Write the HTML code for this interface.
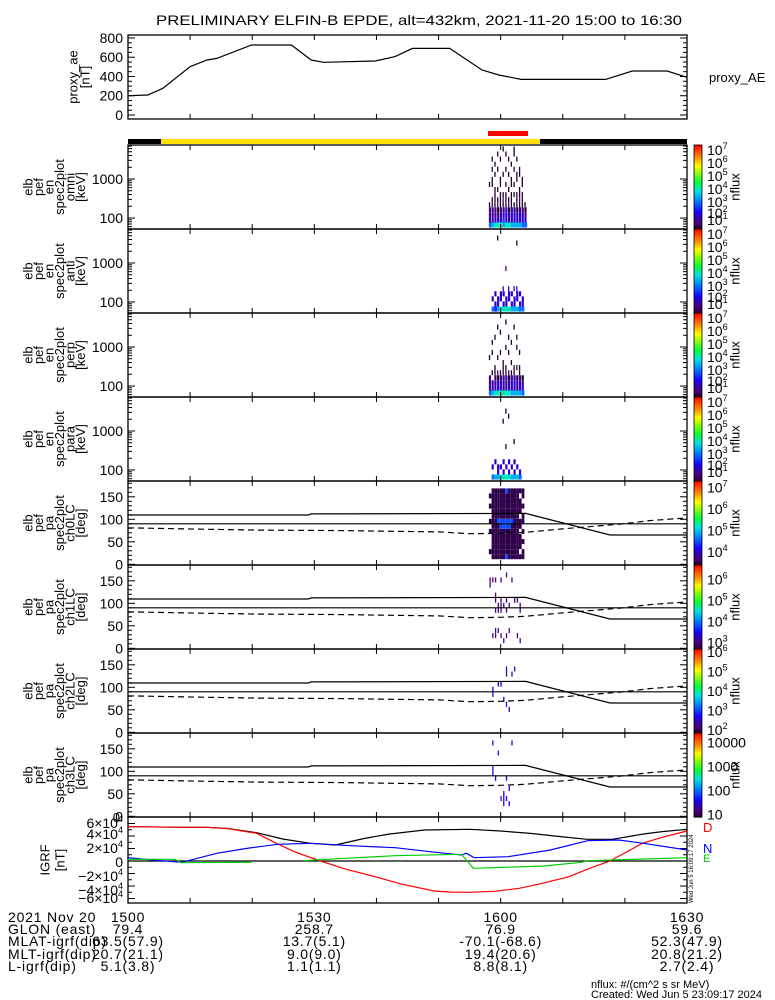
<!DOCTYPE html>
<html><head><meta charset="utf-8"><style>
html,body{margin:0;padding:0;background:#fff;}
svg{display:block;font-family:"Liberation Sans",sans-serif;}
</style></head><body>
<svg id="chart" width="775" height="1000" viewBox="0 0 775 1000" xmlns="http://www.w3.org/2000/svg">
<rect x="0" y="0" width="775" height="1000" fill="#fff"/>
<text x="156" y="25" font-size="14" textLength="526" lengthAdjust="spacingAndGlyphs">PRELIMINARY ELFIN-B EPDE, alt=432km, 2021-11-20 15:00 to 16:30</text>
<g id="layer"></g>
</svg>
<script>
// ---------- DATA ----------
const aeTimes = [0,3.2,5.6,10,12.7,14.3,19.9,26.3,29.5,31.5,39.8,43,45.8,51.8,57,59.7,63.3,76.9,81.2,86.8,90];
const aeValues = [200,208,277,502,571,588,727,727,571,547,561,606,692,692,467,415,370,370,457,457,391];

const energyChannelsLog = [1.82,1.95,2.08,2.21,2.34,2.47,2.60,2.73,2.86,2.99,3.12,3.25,3.38,3.51,3.64,3.77];
const specStartMin = 58.1;
const specBinMin = 0.44;
// chars: '0' empty, else log10(flux) = value/2 (e.g. '8' -> 10^4)
const omniRows = ["6433200020000000","7343220022020200","8433222200202000","8432320200020020","8443222022000200","7543232000200002","8444222020020020","8442320200200200","7443222022002000","7444202020020022","7442222002200200","7443232200220000","6443222022000000","6432200000000000"];
const antiRows = ["0000000000000000","6040000000000000","5404000000000000","7440000000000020","8044000000000000","8404400000000000","8440000030000000","8044400000000000","7404000000000000","7440400000000000","7044400000000200","6404000000000000","6440000000000000","0000000000000000"];
const perpRows = ["6433000200000000","7340200020200000","8433220000020000","8442300200000200","8443200020002000","8343222000000000","8434220002000020","8442300020020000","7443202000200000","7444220000000200","7342020002020000","7443220020000000","6432000000000000","0000000000000000"];
const paraRows = ["0000000000000000","6040000000000000","7004000000000000","7440000000000000","8040000000000000","8404000000020000","8040002000000200","8404000000002000","7040000000000000","7404000200000000","7040000000000000","6400000000000000","0000000000000000","0000000000000000"];

const paBinsDeg = [5.6,16.9,28.1,39.4,50.6,61.9,73.1,84.4,95.6,106.9,118.1,129.4,140.6,151.9,163.1,174.4];
const pa0Rows = ["0070007070070700","0777777777777770","0777777777777770","0777777797777770","0777777997777770","0777777997777770","0977777997777790","0777777997777770","0777777797777770","0777777777777770","0777777777777770","0707770770777070","0770707077070770","0000000000000000"];
const pa1Rows = ["0000000000006600","0060000000000600","0066000606600600","0006000660000000","0060000666000600","0600000060000000","0060000606000060","0006000060000000","0000000000000600","0000000006000000","0060000006000000","0600000660000000","0000000000000000","0000000000000000"];
const pa2Rows = ["0000000000000000","0000000550000000","0000000000000000","0000000005000000","0000000005000000","0000005000000000","0000050000055000","0000500000000000","0000000000050000","0000000000005000","0000000000000000","0000000000000000","0000000000000000","0000000000000000"];
const pa3Rows = ["0000000000000000","0000000033000030","0000000300000000","0000000000003000","0003000000000000","0033300000000000","0003000300000000","0030030000000000","0000000000000030","0000000000000000","0000000000000000","0000000000000000","0000000000000000","0000000000000000"];

const lcTimes = [0,29,29.5,64,77.6,90];
const lcValues = [109.5,109.5,112,113,65,65];
const alcTimes = [0,12,21,33,50,55,60,64,71,79,84,90];
const alcValues = [81,78,76,75,72,68,69,71,80,89,97,103];

const igrfDTimes = [0,9.5,12.7,16,18,20.7,23.9,27,31,35,39.8,44,49.3,52,55,59,63,67,71,74,77.6,80,82.8,86,90];
const igrfDValues = [54900,53900,53900,52000,48500,44300,28300,14000,0,-13000,-25100,-37000,-48000,-49800,-50100,-48500,-43700,-35000,-25100,-13000,0,13000,28300,38000,48000];
const igrfTotTimes = [0,9.5,12.7,16,20.7,25,29.4,33.4,38,42,47.7,55,60,65,70,73.9,78,83,86,90];
const igrfTotValues = [54900,53900,53900,52000,45300,35000,28300,25600,36000,43000,49600,50700,48000,44000,38500,34700,34700,43200,47000,50700];
const igrfNTimes = [0,4,8.7,14.3,19,24,29.4,35.8,43,51,53.7,54.5,55.7,61.2,68,74,79,83,90];
const igrfNValues = [5300,1600,-2100,12300,20000,26700,28300,24500,21300,12300,9600,12300,5300,6900,17600,32500,33600,28300,17600];
const igrfETimes = [0,7.5,8.6,19.9,null,28.2,35,43,53.7,55.6,67,73,74,90];
const igrfEValues = [2700,2700,-2700,-2100,null,500,4300,8500,10700,-11700,-8000,-2100,500,5300];

const timeTickLabels = ["1500","1530","1600","1630"];
const glonValues = ["79.4","258.7","76.9","59.6"];
const mlatValues = ["63.5(57.9)","13.7(5.1)","-70.1(-68.6)","52.3(47.9)"];
const mltValues = ["20.7(21.1)","9.0(9.0)","19.4(20.6)","20.8(21.2)"];
const lValues = ["5.1(3.8)","1.1(1.1)","8.8(8.1)","2.7(2.4)"];

// ---------- HELPERS ----------
const NS = "http://www.w3.org/2000/svg";
const layer = document.getElementById('layer');
const X0 = 128, X1 = 687;
function xOf(t){ return X0 + t*(X1-X0)/90; }
function mk(tag, attrs, parent){
  const e = document.createElementNS(NS, tag);
  for (const k in attrs) e.setAttribute(k, attrs[k]);
  (parent||layer).appendChild(e);
  return e;
}
function txt(x,y,s,size,anchor,parent){
  const t = mk('text',{x:x,y:y,'font-size':size||13,'text-anchor':anchor||'start'},parent);
  t.textContent = s; return t;
}
const cmapStops = [[0,[32,0,48]],[0.08,[75,0,130]],[0.2,[26,0,255]],[0.35,[0,144,255]],[0.45,[0,224,224]],[0.55,[0,255,64]],[0.68,[160,255,0]],[0.75,[255,255,0]],[0.85,[255,144,0]],[1,[255,0,0]]];
function cmap(f){
  f=Math.max(0,Math.min(1,f));
  for(let i=1;i<cmapStops.length;i++){
    if(f<=cmapStops[i][0]){
      const a=cmapStops[i-1],b=cmapStops[i],u=(f-a[0])/(b[0]-a[0]);
      const c=a[1].map((v,j)=>Math.round(v+(b[1][j]-v)*u));
      return 'rgb('+c.join(',')+')';
    }
  }
  return 'rgb(255,0,0)';
}
function frame(top,bot,name){
  const r = mk('rect',{x:X0,y:top,width:X1-X0,height:bot-top,fill:'none',stroke:'#000','stroke-width':1.3});
  
  
  for(let m=10;m<90;m+=10){
    const x=xOf(m);
    mk('line',{x1:x,y1:bot,x2:x,y2:bot-5,stroke:'#000'});
    mk('line',{x1:x,y1:top,x2:x,y2:top+5,stroke:'#000'});
  }
}
function yTick(y,len){
  mk('line',{x1:X0,y1:y,x2:X0+len,y2:y,stroke:'#000'});
  mk('line',{x1:X1,y1:y,x2:X1-len,y2:y,stroke:'#000'});
}
function sideLabel(lines, xs, cy){
  const g = mk('g',{});
  
  
  lines.forEach((s,i)=>{
    const t = txt(xs[i],cy,s,13,'middle',g);
    t.setAttribute('transform','rotate(-90 '+xs[i]+' '+cy+')');
    t.setAttribute('dominant-baseline','central');
  });
}
function polyline(times, vals, yfn, color, dash, name){
  let segs=[[]];
  times.forEach((t,i)=>{ if(t===null){segs.push([]);} else segs[segs.length-1].push(xOf(t).toFixed(1)+','+yfn(vals[i]).toFixed(1)); });
  segs.forEach(s=>{ if(s.length>1){
    const p = mk('polyline',{points:s.join(' '),fill:'none',stroke:color,'stroke-width':1.2});
    if(dash) p.setAttribute('stroke-dasharray',dash);
    
    
  }});
}
function colorbar(top,bot,vmin,vmax,labels,name){
  const n=60,h=(bot-top)/n;
  const g = mk('g',{});
  
  
  for(let i=0;i<n;i++){
    const f=1-(i+0.5)/n;
    mk('rect',{x:694,y:top+i*h,width:8,height:h+0.6,fill:cmap(f)},g);
  }
  mk('rect',{x:694,y:top,width:8,height:bot-top,fill:'none',stroke:'#000','stroke-width':0.8},g);
  labels.forEach(l=>{
    const t = txt(707,l[1]+5,l[0],14,'start',g);
    if(l[2]){ const s=mk('tspan',{dy:-6,'font-size':9},t); s.textContent=l[2]; }
  });
  const cy=(top+bot)/2;
  const t = txt(735,cy,'nflux',13,'middle',g);
  t.setAttribute('transform','rotate(-90 735 '+cy+')');
  t.setAttribute('dominant-baseline','central');
}
const labelXs6=[28,38.5,49,59.5,70,80.5];

// ---------- TOP PANEL: proxy AE ----------
(function(){
  const top=35,bot=119;
  const yA=v=>115-v*0.0963;
  frame(top,bot,'proxy-ae-panel');
  for(let v=0;v<=800;v+=50) yTick(yA(v), v%200===0?7:4);
  [0,200,400,600,800].forEach(v=>txt(123,yA(v)+5,String(v),14,'end'));
  polyline(aeTimes,aeValues,yA,'#000',null,'proxy-ae-line');
  sideLabel(['proxy_ae','[nT]'],[73,85],77);
  const l=txt(709,82,'proxy_AE',13);  
})();

// ---------- STATUS BARS ----------
(function(){
  const b1=mk('rect',{x:X0,y:139,width:X1-X0,height:5,fill:'#000'});  
  const b2=mk('rect',{x:161,y:139,width:379,height:5,fill:'#ffe000'});  
  const b3=mk('rect',{x:488,y:131,width:40,height:5,fill:'#f00'});  
})();

// ---------- ENERGY SPECTROGRAMS ----------
const energyPanels=[[omniRows,'omni'],[antiRows,'anti'],[perpRows,'perp'],[paraRows,'para']];
energyPanels.forEach((p,i)=>{
  const top=145+84*i, bot=top+84;
  const yE=le=>top+73-(le-2)*39;
  const vmin=1.02, vmax=7.38;
  const g=mk('g',{});
  
  
  p[0].forEach((row,j)=>{
    const x0=xOf(specStartMin+j*specBinMin), x1=xOf(specStartMin+(j+1)*specBinMin);
    for(let k=0;k<row.length;k++){
      const c=parseInt(row[k],16); if(!c) continue;
      const v=c/2;
      const le=energyChannelsLog[k];
      const ya=Math.max(top,yE(le+0.065)), yb=Math.min(bot,yE(le-0.065));
      const w = k===0 ? (x1-x0) : (k<4 ? (x1-x0)*0.8 : 1.3);
      const r=mk('rect',{x:x0,y:ya,width:w,height:yb-ya,fill:cmap((v-vmin)/(vmax-vmin))},g);
      
    }
  });
  frame(top,bot,'spectrogram-frame-'+p[1]);
  for(let d=1;d<=4;d++) for(let m=1;m<10;m++){
    const y=yE(d+Math.log10(m)); if(y>top&&y<bot) yTick(y, m===1?7:4);
  }
  txt(123,yE(3)+5,'1000',14,'end'); txt(123,yE(2)+5,'100',14,'end');
  sideLabel(['elb','pef','en','spec2plot',p[1],'[keV]'],labelXs6,top+42);
  colorbar(top,bot,vmin,vmax,[['10',top+5,'7'],['10',top+18,'6'],['10',top+31,'5'],['10',top+44,'4'],['10',top+57,'3'],['10',top+68,'2'],['10',top+75,'1']],'colorbar-'+p[1]);
});

// ---------- PITCH ANGLE SPECTROGRAMS ----------
const paPanels=[[pa0Rows,'ch0LC',3.4,7.3,[['10','7'],['10','6'],['10','5'],['10','4']],[7,6,5,4]],
                [pa1Rows,'ch1LC',2.7,6.7,[['10','6'],['10','5'],['10','4'],['10','3']],[6,5,4,3]],
                [pa2Rows,'ch2LC',1.85,6.15,[['10','6'],['10','5'],['10','4'],['10','3'],['10','2']],[6,5,4,3,2]],
                [pa3Rows,'ch3LC',0.9,4.4,[['10000',''],['1000',''],['100',''],['10','']],[4,3,2,1]]];
paPanels.forEach((p,i)=>{
  const top=481+84*i, bot=top+84;
  const yP=a=>top+83.3-a*0.45;
  const vmin=p[2],vmax=p[3];
  const g=mk('g',{});
  
  
  p[0].forEach((row,j)=>{
    const x0=xOf(specStartMin+j*specBinMin), x1=xOf(specStartMin+(j+1)*specBinMin);
    for(let k=0;k<row.length;k++){
      const c=parseInt(row[k],16); if(!c) continue;
      const v=c/2, a=paBinsDeg[k];
      const ya=yP(a+5.6), yb=yP(a-5.6);
      const w = i===0 ? (x1-x0) : 1.3;
      const r=mk('rect',{x:x0+(i===0?0:0.6),y:ya,width:w,height:yb-ya,fill:cmap((v-vmin)/(vmax-vmin))},g);
      
    }
  });
  frame(top,bot,'pa-frame-'+p[1]);
  for(let a=0;a<=180;a+=10) yTick(yP(a), a%50===0?7:4);
  [0,50,100,150].forEach(a=>txt(123,yP(a)+5,String(a),14,'end'));
  const l90=mk('line',{x1:X0,y1:yP(90),x2:X1,y2:yP(90),stroke:'#000','stroke-width':1.2});
   
  polyline(lcTimes,lcValues,yP,'#000',null,'loss-cone-line');
  polyline(alcTimes,alcValues,yP,'#000','6,4','anti-loss-cone-line');
  sideLabel(['elb','pef','pa','spec2plot',p[1],'[deg]'],labelXs6,top+42);
  const span=bot-top;
  const labs=p[4].map((l,q)=>[l[0], top+(vmax-p[5][q])/(vmax-vmin)*span, l[1]]);
  colorbar(top,bot,vmin,vmax,labs,'colorbar-'+p[1]);
});

// ---------- IGRF PANEL ----------
(function(){
  const top=817,bot=903;
  const yI=v=>861-v*12.5/20000;
  frame(top,bot,'igrf-panel');
  for(let v=-60000;v<=60000;v+=10000) yTick(yI(v), v%20000===0?7:4);
  const z=mk('line',{x1:X0,y1:yI(0),x2:X1,y2:yI(0),stroke:'#000','stroke-width':1.3});  
  polyline(igrfTotTimes,igrfTotValues,yI,'#000',null,'igrf-total-line');
  polyline(igrfDTimes,igrfDValues,yI,'#f00',null,'igrf-d-line');
  polyline(igrfNTimes,igrfNValues,yI,'#00f',null,'igrf-n-line');
  polyline(igrfETimes,igrfEValues,yI,'#0c0',null,'igrf-e-line');
  const ylabs=[['6×10','4',828],['4×10','4',839],['2×10','4',853],['0','',867],['−2×10','4',881],['−4×10','4',895],['−6×10','4',903]];
  ylabs.forEach(l=>{ const t=txt(123,l[2],l[0],14,'end'); if(l[1]){ const s=mk('tspan',{dy:-6,'font-size':9},t); s.textContent=l[1]; t.setAttribute('text-anchor','end'); } });
  txt(120,822,'0',13,'end');
  sideLabel(['IGRF','[nT]'],[45,60],860);
  const d=txt(703,832,'D',13); d.setAttribute('fill','#f00');  
  const n=txt(703,853,'N',13); n.setAttribute('fill','#00f');  
  const e=txt(703,862,'E',11); e.setAttribute('fill','#0c0');  
  const st=txt(693,903,'Wed Jun  5 16:09:17 2024',6); st.setAttribute('transform','rotate(-90 693 903)');
   
})();

// ---------- BOTTOM TEXT ----------
(function(){
  const g=mk('g',{});
  
  
  const rows=[['2021 Nov 20',timeTickLabels,922],['GLON (east)',glonValues,934],['MLAT-igrf(dip)',mlatValues,946],['MLT-igrf(dip)',mltValues,959],['L-igrf(dip)',lValues,971]];
  rows.forEach(r=>{
    const t=txt(8,r[2],r[0],14,'start',g); t.setAttribute('letter-spacing','0.8');
    r[1].forEach((s,i)=>{ const v=txt(xOf(i*30),r[2],s,14,'middle',g); v.setAttribute('letter-spacing','0.8'); });
  });
  txt(591,988,'nflux: #/(cm^2 s sr MeV)',11,'start',g);
  txt(591,998,'Created: Wed Jun  5 23:09:17 2024',11,'start',g);
})();
</script>
</body></html>
